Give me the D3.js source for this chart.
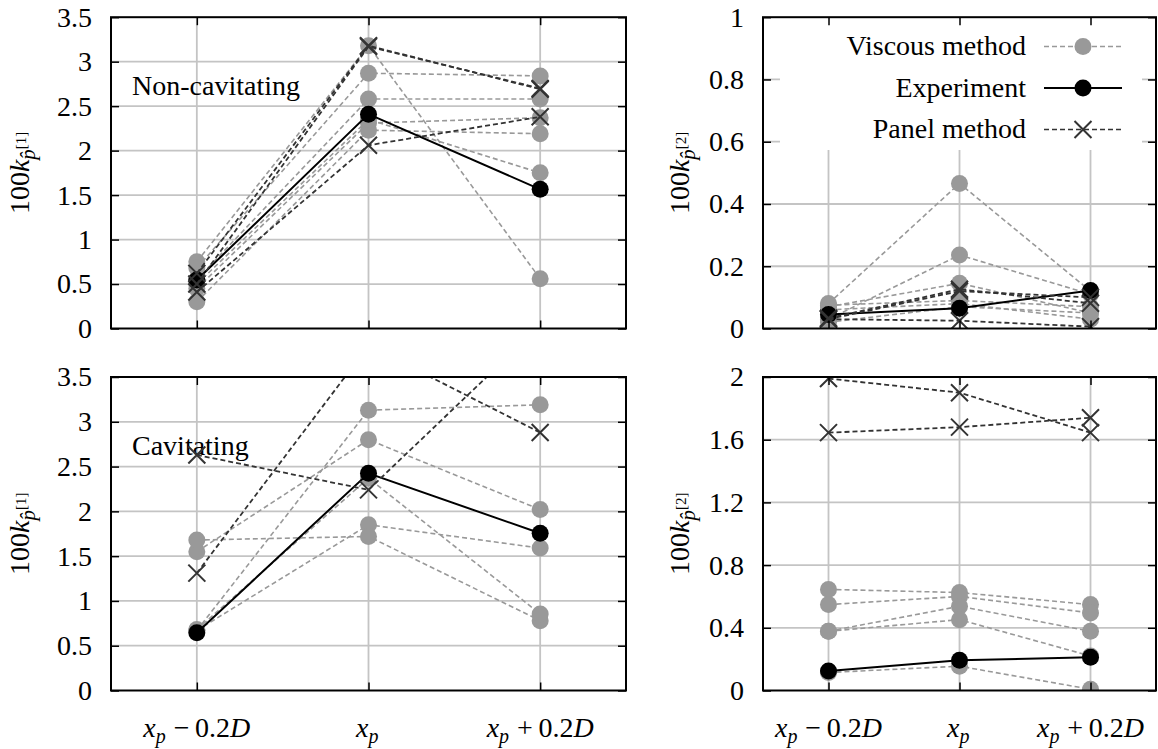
<!DOCTYPE html>
<html>
<head>
<meta charset="utf-8">
<script src="https://cdn.jsdelivr.net/npm/d3@7"></script>
<style>
  body { margin: 0; background: #fff; }
</style>
</head>
<body>
<div id="chart"></div>
<script>
// categories along x (positions 0, 1, 2)
const categories = [0, 1, 2];
const xTickLabels = ["x_p − 0.2D", "x_p", "x_p + 0.2D"];

// y ticks
const k1Ticks = [0, 0.5, 1, 1.5, 2, 2.5, 3, 3.5];
const k2TicksTop = [0, 0.2, 0.4, 0.6, 0.8, 1];
const k2TicksBottom = [0, 0.4, 0.8, 1.2, 1.6, 2];

// non-cavitating, first harmonic
const nonCavK1Viscous = [
  [0.75, 3.18, 0.56],
  [0.68, 2.87, 2.84],
  [0.55, 2.58, 2.58],
  [0.45, 2.31, 2.37],
  [0.30, 2.23, 2.19],
  [0.50, 2.35, 1.75]
];
const nonCavK1Panel = [
  [0.62, 3.18, 2.69],
  [0.50, 3.17, 2.70],
  [0.41, 2.06, 2.38]
];
const nonCavK1Exp = [0.545, 2.41, 1.565];

// non-cavitating, second harmonic
const nonCavK2Viscous = [
  [0.08, 0.466, 0.12],
  [0.03, 0.236, 0.11],
  [0.07, 0.145, 0.05],
  [0.075, 0.09, 0.07],
  [0.06, 0.08, 0.03],
  [0.02, 0.07, 0.05]
];
const nonCavK2Panel = [
  [0.033, 0.126, 0.081],
  [0.03, 0.12, 0.10],
  [0.03, 0.025, 0.006]
];
const nonCavK2Exp = [0.045, 0.065, 0.122];

// cavitating, first harmonic
const cavK1Viscous = [
  [0.67, 3.13, 3.19],
  [1.55, 2.80, 2.02],
  [0.67, 1.85, 1.59],
  [1.68, 1.72, 0.78],
  [0.68, 2.37, 0.855]
];
const cavK1Panel = [
  [2.63, 2.24, 4.07],
  [1.31, 3.85, 2.88]
];
const cavK1Exp = [0.645, 2.425, 1.755];

// cavitating, second harmonic
const cavK2Viscous = [
  [0.645, 0.625, 0.548],
  [0.548, 0.60, 0.495],
  [0.378, 0.537, 0.378],
  [0.378, 0.452, 0.22],
  [0.115, 0.155, 0.008]
];
const cavK2Panel = [
  [1.99, 1.90, 1.645],
  [1.645, 1.68, 1.74]
];
const cavK2Exp = [0.125, 0.193, 0.212];

const W = 1158, H = 749;
const gridColor = "#c4c4c4";
const viscousColor = "#999999";
const panelColor = "#333333";
const fontSize = 28;
const serif = "'Liberation Serif', serif";

const svg = d3.select("#chart").append("svg")
  .attr("width", W)
  .attr("height", H)
  .style("display", "block");

const panels = [
  { id: "tl", x0: 111, x1: 626, y0: 328.5, y1: 17.2, yMax: 3.5, ticks: k1Ticks, harm: 1,
    viscous: nonCavK1Viscous, panel: nonCavK1Panel, exp: nonCavK1Exp, note: "Non-cavitating", noteY: 95 },
  { id: "tr", x0: 763, x1: 1156, y0: 328.5, y1: 17.2, yMax: 1, ticks: k2TicksTop, harm: 2,
    viscous: nonCavK2Viscous, panel: nonCavK2Panel, exp: nonCavK2Exp, legend: true },
  { id: "bl", x0: 111, x1: 626, y0: 690.5, y1: 377, yMax: 3.5, ticks: k1Ticks, harm: 1,
    viscous: cavK1Viscous, panel: cavK1Panel, exp: cavK1Exp, note: "Cavitating", noteY: 455, xLabels: true },
  { id: "br", x0: 763, x1: 1156, y0: 690.5, y1: 377, yMax: 2, ticks: k2TicksBottom, harm: 2,
    viscous: cavK2Viscous, panel: cavK2Panel, exp: cavK2Exp, xLabels: true }
];

const crossPath = "M-8.5,-8.5L8.5,8.5M-8.5,8.5L8.5,-8.5";

function styleAxis(g) {
  g.select(".domain").remove();
  g.selectAll(".tick line").attr("stroke", "#000").attr("stroke-width", 1.5);
  g.attr("font-family", serif).attr("font-size", fontSize);
  g.selectAll(".tick text").attr("fill", "#000");
}

// x_p -> italic x with subscript p, D -> italic
function drawXLabel(g, str, cx, baseY) {
  const t = g.append("text")
    .attr("x", cx).attr("y", baseY)
    .attr("text-anchor", "middle")
    .attr("font-family", serif)
    .attr("font-size", fontSize);
  const parts = str.match(/x_p|D|[^xD]+/g);
  parts.forEach((p) => {
    if (p === "x_p") {
      t.append("tspan").attr("font-style", "italic").text("x");
      t.append("tspan").attr("font-style", "italic").attr("font-size", 20).attr("dy", 6).text("p");
      t.append("tspan").attr("dy", -6).text("\u200A");
    } else if (p === "D") {
      t.append("tspan").attr("font-style", "italic").text("D");
    } else {
      t.append("tspan").text(p.replace(/ /g, "\u2009"));
    }
  });
}

function drawYTitle(g, x, y, harm) {
  const t = g.append("text")
    .attr("transform", `translate(${x},${y}) rotate(-90)`)
    .attr("text-anchor", "middle")
    .attr("font-family", serif)
    .attr("font-size", fontSize);
  t.append("tspan").text("100");
  t.append("tspan").attr("font-style", "italic").text("k");
  t.append("tspan").attr("font-style", "italic").attr("font-size", 21).attr("dy", 6).text("p\u0302");
  t.append("tspan").attr("font-size", 15).attr("dy", -9).text(`[${harm}]`);
}

panels.forEach((p) => {
  const x = d3.scaleLinear().domain([-0.5, 2.5]).range([p.x0, p.x1]);
  const y = d3.scaleLinear().domain([0, p.yMax]).range([p.y0, p.y1]);
  const g = svg.append("g").attr("class", "panel-" + p.id);

  // grid
  g.append("g").selectAll("line")
    .data(p.ticks.filter((d) => d > 0 && d < p.yMax))
    .enter().append("line")
    .attr("x1", p.x0).attr("x2", p.x1)
    .attr("y1", (d) => y(d)).attr("y2", (d) => y(d))
    .attr("stroke", gridColor).attr("stroke-width", 1.8);
  g.append("g").selectAll("line")
    .data(categories)
    .enter().append("line")
    .attr("x1", (d) => x(d)).attr("x2", (d) => x(d))
    .attr("y1", p.y0).attr("y2", p.y1)
    .attr("stroke", gridColor).attr("stroke-width", 1.8);

  // legend box hides the grid behind it
  if (p.legend) {
    g.append("rect")
      .attr("x", 780).attr("y", p.y1)
      .attr("width", 1142 - 780).attr("height", 150 - p.y1)
      .attr("fill", "#fff");
  }

  if (p.note) {
    g.append("text")
      .attr("x", 132).attr("y", p.noteY)
      .attr("font-family", serif)
      .attr("font-size", fontSize)
      .text(p.note);
  }

  // clip for series
  svg.append("clipPath").attr("id", "clip-" + p.id)
    .append("rect")
    .attr("x", p.x0).attr("y", p.y1)
    .attr("width", p.x1 - p.x0).attr("height", p.y0 - p.y1);

  const plot = g.append("g").attr("clip-path", `url(#clip-${p.id})`);
  const line = d3.line().x((d, i) => x(categories[i])).y((d) => y(d));

  // viscous method
  p.viscous.forEach((s) => {
    plot.append("path").datum(s)
      .attr("d", line)
      .attr("fill", "none")
      .attr("stroke", viscousColor)
      .attr("stroke-width", 1.6)
      .attr("stroke-dasharray", "5,3");
    plot.selectAll(null).data(s).enter().append("circle")
      .attr("cx", (d, i) => x(categories[i]))
      .attr("cy", (d) => y(d))
      .attr("r", 8.5)
      .attr("fill", viscousColor);
  });

  // experiment
  plot.append("path").datum(p.exp)
    .attr("d", line)
    .attr("fill", "none")
    .attr("stroke", "#000")
    .attr("stroke-width", 2);
  plot.selectAll(null).data(p.exp).enter().append("circle")
    .attr("cx", (d, i) => x(categories[i]))
    .attr("cy", (d) => y(d))
    .attr("r", 8.5)
    .attr("fill", "#000");

  // panel method
  p.panel.forEach((s) => {
    plot.append("path").datum(s)
      .attr("d", line)
      .attr("fill", "none")
      .attr("stroke", panelColor)
      .attr("stroke-width", 1.8)
      .attr("stroke-dasharray", "5,3");
    plot.selectAll(null).data(s).enter().append("path")
      .attr("transform", (d, i) => `translate(${x(categories[i])},${y(d)})`)
      .attr("d", crossPath)
      .attr("fill", "none")
      .attr("stroke", panelColor)
      .attr("stroke-width", 2);
  });

  // axes with inward ticks
  g.append("g").attr("transform", `translate(${p.x0},0)`)
    .call(d3.axisLeft(y).tickValues(p.ticks).tickSizeInner(-8).tickSizeOuter(0)
      .tickPadding(19).tickFormat((d) => String(d)))
    .call(styleAxis);
  g.append("g").attr("transform", `translate(${p.x1},0)`)
    .call(d3.axisRight(y).tickValues(p.ticks).tickSizeInner(-8).tickSizeOuter(0).tickFormat(""))
    .call(styleAxis);
  g.append("g").attr("transform", `translate(0,${p.y0})`)
    .call(d3.axisBottom(x).tickValues(categories).tickSizeInner(-8).tickSizeOuter(0).tickFormat(""))
    .call(styleAxis);
  g.append("g").attr("transform", `translate(0,${p.y1})`)
    .call(d3.axisTop(x).tickValues(categories).tickSizeInner(-8).tickSizeOuter(0).tickFormat(""))
    .call(styleAxis);

  // frame
  g.append("rect")
    .attr("x", p.x0).attr("y", p.y1)
    .attr("width", p.x1 - p.x0).attr("height", p.y0 - p.y1)
    .attr("fill", "none")
    .attr("stroke", "#000")
    .attr("stroke-width", 2);

  drawYTitle(g, p.x0 < 400 ? 29 : 689, (p.y0 + p.y1) / 2, p.harm);

  if (p.xLabels) {
    categories.forEach((c, i) => drawXLabel(g, xTickLabels[i], x(c), 737));
  }

  if (p.legend) {
    const rows = [
      { label: "Viscous method", color: viscousColor, dash: "5,3", mark: "circle" },
      { label: "Experiment", color: "#000", dash: null, mark: "circle" },
      { label: "Panel method", color: panelColor, dash: "5,3", mark: "cross" }
    ];
    const lg = g.append("g");
    rows.forEach((r, i) => {
      const ry = 46.5 + i * 41.5;
      lg.append("text")
        .attr("x", 1026).attr("y", ry)
        .attr("dy", "0.32em")
        .attr("text-anchor", "end")
        .attr("font-family", serif)
        .attr("font-size", fontSize)
        .text(r.label);
      lg.append("line")
        .attr("x1", 1044).attr("x2", 1122)
        .attr("y1", ry).attr("y2", ry)
        .attr("stroke", r.color)
        .attr("stroke-width", r.dash ? 1.7 : 2)
        .attr("stroke-dasharray", r.dash);
      if (r.mark === "circle") {
        lg.append("circle").attr("cx", 1083).attr("cy", ry).attr("r", 8.5).attr("fill", r.color);
      } else {
        lg.append("path").attr("transform", `translate(1083,${ry})`)
          .attr("d", crossPath).attr("fill", "none")
          .attr("stroke", r.color).attr("stroke-width", 2);
      }
    });
  }
});
</script>
</body>
</html>
